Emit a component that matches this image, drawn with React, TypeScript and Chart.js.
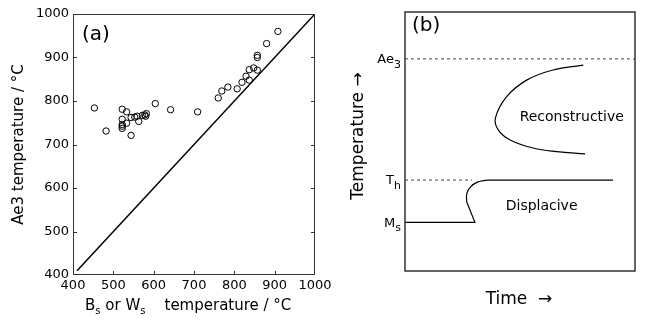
import React, { useEffect, useRef } from "react";
import { Chart, registerables } from "chart.js";

Chart.register(...registerables);

const FAMILY = "'DejaVu Sans', sans-serif";

// ---------- Panel (a) data ----------
const axisTicks = [400, 500, 600, 700, 800, 900, 1000];
const bsWsTemps = [
  453, 482, 522, 533, 522, 533, 522, 522, 522, 544, 544, 553, 559, 563, 572, 578, 582, 580,
  604, 642, 709, 760, 769, 784, 807, 819, 829, 837, 837, 848, 857, 857, 857, 880, 908,
];
const ae3Temps = [
  784, 731, 781, 775, 758, 749, 746, 742, 737, 721, 762, 763, 765, 753, 767, 768, 771, 765,
  794, 780, 775, 807, 823, 832, 828, 843, 857, 848, 872, 876, 871, 900, 905, 932, 960,
];
const equalityLine = [410, 1000];

// ---------- Panel (b) data (arbitrary time / temperature units) ----------
const levelNames = ["Ae", "T", "M"];
const levelSubs = ["3", "h", "s"];
const levelValues = [81.9, 35.1, 18.8];
const thDashEnd = 29.1;
const reconTime = [77.5, 64.3, 52.9, 44.2, 39.3, 40.6, 45.7, 55.7, 66.0, 78.3];
const reconTemp = [79.5, 77.6, 73.7, 67.3, 59.0, 54.4, 50.6, 47.5, 46.1, 45.2];
const msLineTime = [0, 30.4, 26.8];
const msLineTemp = [18.8, 18.8, 26.7];
const bendTime = [26.8, 26.9, 28.5, 31.5, 35.7];
const bendTemp = [26.7, 30.0, 32.5, 34.3, 35.1];
const thSolidTime = [35.7, 90.4];
const regionNames = ["Reconstructive", "Displacive"];
const regionTime = [72.5, 59.4];
const regionTemp = [59.5, 24.8];

type Part = [string, boolean];

function drawParts(
  ctx: CanvasRenderingContext2D,
  parts: Part[],
  x: number,
  y: number,
  align: "left" | "right" | "center",
  mainSize: number,
  subSize: number,
  subDy: number
) {
  ctx.save();
  ctx.textBaseline = "middle";
  ctx.textAlign = "left";
  ctx.fillStyle = "#000";
  let total = 0;
  const widths = parts.map(([t, sub]) => {
    ctx.font = `${sub ? subSize : mainSize}px ${FAMILY}`;
    const w = ctx.measureText(t).width;
    total += w;
    return w;
  });
  let cx = align === "left" ? x : align === "right" ? x - total : x - total / 2;
  parts.forEach(([t, sub], i) => {
    ctx.font = `${sub ? subSize : mainSize}px ${FAMILY}`;
    ctx.fillText(t, cx, sub ? y + subDy : y);
    cx += widths[i];
  });
  ctx.restore();
}

const panelAPlugin = {
  id: "panelA",
  afterDraw(chart: any) {
    const { ctx, chartArea: a, scales } = chart;
    ctx.save();
    ctx.strokeStyle = "#333";
    ctx.lineWidth = 1;
    ctx.strokeRect(a.left + 0.5, a.top + 0.5, a.right - a.left - 1, a.bottom - a.top - 1);
    ctx.beginPath();
    axisTicks.slice(1, -1).forEach((v) => {
      const px = Math.round(scales.x.getPixelForValue(v)) + 0.5;
      ctx.moveTo(px, a.bottom);
      ctx.lineTo(px, a.bottom - 4);
      const py = Math.round(scales.y.getPixelForValue(v)) + 0.5;
      ctx.moveTo(a.left, py);
      ctx.lineTo(a.left + 4, py);
      ctx.moveTo(a.right, py);
      ctx.lineTo(a.right - 4, py);
    });
    ctx.stroke();
    ctx.restore();
    drawParts(ctx, [["(a)", false]], 82, 35, "left", 20, 20, 0);
    drawParts(
      ctx,
      [
        ["B", false],
        ["s", true],
        [" or W", false],
        ["s", true],
        ["    temperature / °C", false],
      ],
      85,
      306,
      "left",
      15,
      10,
      5
    );
  },
};

const panelBPlugin = {
  id: "panelB",
  afterDraw(chart: any) {
    const { ctx, chartArea: a, scales } = chart;
    ctx.save();
    ctx.strokeStyle = "#333";
    ctx.lineWidth = 1.5;
    ctx.strokeRect(a.left, a.top, a.right - a.left, a.bottom - a.top);
    ctx.restore();
    levelNames.forEach((n, i) => {
      const py = scales.y.getPixelForValue(levelValues[i]);
      drawParts(ctx, [[n, false], [levelSubs[i], true]], 61, py + 1, "right", 13, 11, 5);
    });
    regionNames.forEach((n, i) => {
      drawParts(
        ctx,
        [[n, false]],
        scales.x.getPixelForValue(regionTime[i]),
        scales.y.getPixelForValue(regionTemp[i]),
        "center",
        14,
        14,
        0
      );
    });
    drawParts(ctx, [["(b)", false]], 72, 26, "left", 20, 20, 0);
    drawParts(ctx, [["Time  →", false]], 179, 300, "center", 17, 17, 0);
    ctx.save();
    ctx.translate(18.5, 136);
    ctx.rotate(-Math.PI / 2);
    drawParts(ctx, [["Temperature →", false]], 0, 0, "center", 17, 17, 0);
    ctx.restore();
  },
};

export default function App() {
  const refA = useRef<HTMLCanvasElement>(null);
  const refB = useRef<HTMLCanvasElement>(null);

  useEffect(() => {
    const tickFont = { family: FAMILY, size: 13 };
    const points = bsWsTemps.map((x, i) => ({ x, y: ae3Temps[i] }));
    const chartA = new Chart(refA.current as HTMLCanvasElement, {
      type: "scatter",
      data: {
        datasets: [
          {
            data: points,
            pointRadius: 3.2,
            pointBorderWidth: 1,
            borderColor: "#000",
            backgroundColor: "rgba(0,0,0,0)",
            pointBackgroundColor: "rgba(0,0,0,0)",
            showLine: false,
          } as any,
          {
            type: "line",
            data: equalityLine.map((v) => ({ x: v, y: v })),
            borderColor: "#000",
            borderWidth: 1.5,
            pointRadius: 0,
            fill: false,
            tension: 0,
          } as any,
        ],
      },
      options: {
        responsive: false,
        animation: false,
        events: [],
        devicePixelRatio: 1,
        layout: { padding: { top: 14, right: 25, left: 0, bottom: 0 } },
        plugins: { legend: { display: false }, tooltip: { enabled: false } },
        scales: {
          x: {
            type: "linear",
            min: 400,
            max: 1000,
            afterBuildTicks: (s: any) => {
              s.ticks = axisTicks.map((v) => ({ value: v }));
            },
            afterFit: (s: any) => {
              s.height = 56;
            },
            ticks: {
              font: tickFont,
              color: "#000",
              padding: 3,
              maxRotation: 0,
              autoSkip: false,
              callback: (v: any) => String(v),
            },
            grid: { display: false, drawTicks: false },
            border: { display: false },
          },
          y: {
            type: "linear",
            min: 400,
            max: 1000,
            afterBuildTicks: (s: any) => {
              s.ticks = axisTicks.map((v) => ({ value: v }));
            },
            afterFit: (s: any) => {
              s.width = 73;
            },
            ticks: {
              font: tickFont,
              color: "#000",
              padding: 4,
              autoSkip: false,
              callback: (v: any) => String(v),
            },
            grid: { display: false, drawTicks: false },
            border: { display: false },
            title: {
              display: true,
              text: "Ae3 temperature / °C",
              font: { family: FAMILY, size: 15 },
              color: "#000",
              padding: { top: 10, bottom: 0 },
            },
          },
        },
      } as any,
      plugins: [panelAPlugin],
    });

    const lineStyle = {
      borderColor: "#000",
      borderWidth: 1.2,
      pointRadius: 0,
      showLine: true,
      fill: false,
    };
    const dashStyle = { ...lineStyle, borderColor: "#444", borderWidth: 1, borderDash: [3, 3] };
    const chartB = new Chart(refB.current as HTMLCanvasElement, {
      type: "scatter",
      data: {
        datasets: [
          { ...dashStyle, data: [{ x: 0, y: levelValues[0] }, { x: 100, y: levelValues[0] }] },
          { ...dashStyle, data: [{ x: 0, y: levelValues[1] }, { x: thDashEnd, y: levelValues[1] }] },
          {
            ...lineStyle,
            data: thSolidTime.map((x) => ({ x, y: levelValues[1] })),
          },
          { ...lineStyle, data: msLineTime.map((x, i) => ({ x, y: msLineTemp[i] })), tension: 0 },
          { ...lineStyle, data: bendTime.map((x, i) => ({ x, y: bendTemp[i] })), tension: 0.4 },
          { ...lineStyle, data: reconTime.map((x, i) => ({ x, y: reconTemp[i] })), tension: 0.4 },
        ] as any,
      },
      options: {
        responsive: false,
        animation: false,
        events: [],
        devicePixelRatio: 1,
        layout: { padding: { left: 65, right: 12, top: 12, bottom: 60 } },
        plugins: { legend: { display: false }, tooltip: { enabled: false } },
        scales: {
          x: { type: "linear", min: 0, max: 100, display: false },
          y: { type: "linear", min: 0, max: 100, display: false },
        },
      } as any,
      plugins: [panelBPlugin],
    });

    return () => {
      chartA.destroy();
      chartB.destroy();
    };
  }, []);

  return (
    <div
      style={{
        position: "fixed",
        left: 0,
        top: 0,
        width: 647,
        height: 331,
        background: "#fff",
      }}
    >
      <canvas
        ref={refA}
        width={340}
        height={331}
        style={{ position: "absolute", left: 0, top: 0, width: 340, height: 331 }}
      />
      <canvas
        ref={refB}
        width={307}
        height={331}
        style={{ position: "absolute", left: 340, top: 0, width: 307, height: 331 }}
      />
    </div>
  );
}
